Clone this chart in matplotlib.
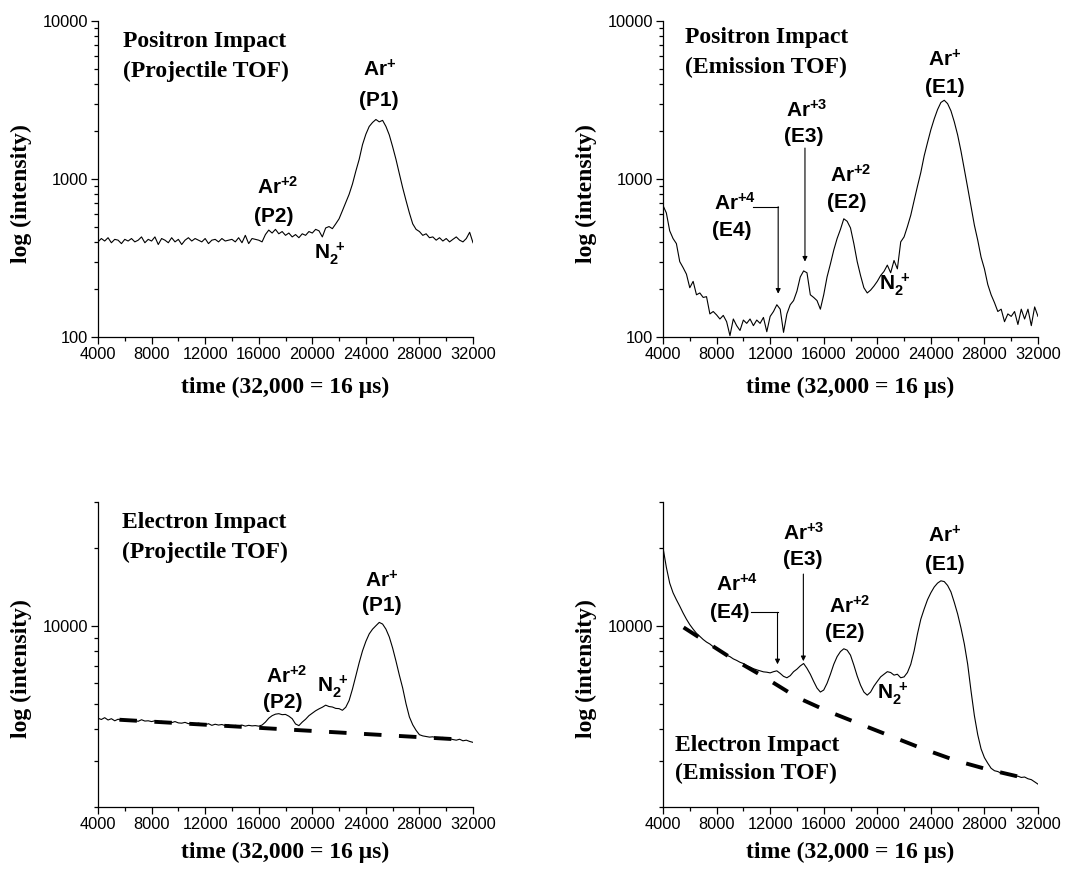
import numpy as np
import matplotlib
matplotlib.use('Agg')
import matplotlib.pyplot as plt
from matplotlib.ticker import FixedLocator, NullFormatter, MultipleLocator

plt.rcParams['font.family'] = ['Liberation Sans', 'DejaVu Sans']
plt.rcParams['mathtext.fontset'] = 'custom'
plt.rcParams['mathtext.rm'] = 'Liberation Sans'
plt.rcParams['mathtext.bf'] = 'Liberation Sans:bold'
plt.rcParams['mathtext.it'] = 'Liberation Sans:italic'

# ---------------- data ----------------
time_grid = list(range(4000, 32001, 250))

positron_projectile = [
    400, 420, 405, 425, 395, 415, 410, 390, 415, 405, 420, 400, 410, 430, 395, 415,
    405, 430, 385, 420, 410, 395, 425, 400, 415, 385, 410, 425, 405, 420, 410, 400,
    420, 390, 410, 415, 400, 420, 405, 410, 415, 400, 425, 395, 440, 390, 420, 415,
    410, 400, 445, 475, 455, 480, 450, 465, 440, 455, 430, 445, 425, 450, 440, 465,
    455, 480, 470, 430, 490, 500, 485, 520, 560, 630, 710, 800, 930, 1120, 1330, 1650,
    1920, 2150, 2280, 2380, 2300, 2350, 2150, 1900, 1600, 1330, 1080, 880, 730, 610, 520, 480,
    465, 440, 450, 425, 430, 410, 425, 405, 420, 400, 415, 430, 410, 400, 420, 460, 395]

positron_emission = [
    680, 610, 470, 420, 390, 300, 275, 250, 205, 225, 185, 190, 178, 180, 140, 145,
    138, 130, 137, 125, 102, 130, 118, 110, 128, 122, 130, 118, 128, 122, 133, 108,
    135, 145, 160, 150, 107, 140, 160, 170, 195, 240, 262, 255, 185, 178, 170, 150,
    185, 240, 290, 355, 420, 480, 560, 540, 490, 390, 300, 245, 205, 190, 198, 210,
    225, 245, 260, 285, 255, 305, 270, 400, 430, 500, 590, 730, 900, 1100, 1400, 1700,
    2050, 2400, 2750, 3050, 3150, 3000, 2700, 2300, 1900, 1500, 1150, 880, 670, 510, 410, 320,
    270, 215, 185, 165, 145, 150, 125, 140, 135, 145, 120, 150, 130, 150, 118, 155, 135]

electron_projectile = [
    4400, 4350, 4420, 4330, 4380, 4300, 4360, 4320, 4340, 4290, 4330, 4310, 4280, 4340, 4290, 4300,
    4270, 4300, 4250, 4280, 4240, 4260, 4230, 4270, 4220, 4210, 4240, 4190, 4220, 4170, 4210, 4180,
    4150, 4190, 4130, 4170, 4140, 4160, 4120, 4150, 4060, 4130, 4110, 4140, 4100, 4130, 4110, 4120,
    4100, 4140, 4250, 4400, 4500, 4560, 4580, 4540, 4550, 4480, 4380, 4180, 4120, 4250, 4360, 4500,
    4600, 4700, 4780, 4850, 4940, 4880, 4860, 4800, 4790, 4720, 4850, 5150, 5700, 6400, 7200, 8000,
    8700, 9300, 9700, 10000, 10300, 10150, 9700, 9050, 8200, 7300, 6450, 5750, 5000, 4450, 4150, 3950,
    3800, 3760, 3740, 3720, 3730, 3700, 3690, 3710, 3660, 3670, 3640, 3620, 3650, 3600, 3620, 3580, 3550]

electron_emission = [
    20000, 16800, 14600, 13400, 12600, 11900, 11200, 10600, 10100, 9700, 9350, 9100, 8850, 8650, 8500, 8300,
    8150, 7980, 7850, 7700, 7600, 7450, 7350, 7230, 7150, 7020, 6930, 6830, 6760, 6700, 6640, 6620,
    6580, 6650, 6700, 6550, 6380, 6300, 6420, 6650, 6800, 7000, 7150, 6850, 6500, 6100, 5750, 5550,
    5650, 6000, 6500, 7100, 7600, 7950, 8150, 8050, 7700, 7050, 6400, 5900, 5550, 5400, 5550, 5850,
    6100, 6350, 6500, 6650, 6600, 6450, 6500, 6300, 6350, 6600, 7100, 8000, 9300, 10600, 11600, 12600,
    13400, 14100, 14600, 14900, 14800, 14300, 13500, 12300, 11100, 9800, 8500, 7100, 5600, 4500, 3800, 3350,
    3100, 2950, 2820, 2760, 2740, 2700, 2690, 2660, 2650, 2620, 2630, 2600, 2610, 2570, 2550, 2500, 2450]

ep_base_t = [5600, 31500]
ep_base_v = [4340, 3630]

ee_base_t = [5540, 9020, 11380, 13990, 16220, 18700, 21190, 23430, 25910, 28150, 31100]
ee_base_v = [9850, 7550, 6420, 5300, 4700, 4180, 3720, 3350, 3015, 2800, 2580]

x_ticks = [4000, 8000, 12000, 16000, 20000, 24000, 28000, 32000]
x_tick_labels = ['4000', '8000', '12000', '16000', '20000', '24000', '28000', '32000']
top_y_ticks = [100, 1000, 10000]
top_y_labels = ['100', '1000', '10000']
bot_y_ticks = [10000]
bot_y_labels = ['10000']

# ---------------- layout ----------------
W, H = 1078, 869
fig = plt.figure(figsize=(W / 100, H / 100), dpi=100)


def add_ax(l, r, t, b):
    return fig.add_axes([l / W, 1 - b / H, (r - l) / W, (b - t) / H])


SERIF = ['Liberation Serif', 'DejaVu Serif']
TSIZE = 17
LSIZE = 15


def style(ax, ylim, yt, ytl, yminor, height_px, xlab_off):
    ax.set_xlim(4000, 32000)
    ax.set_yscale('log')
    ax.set_ylim(*ylim)
    for s in ['top', 'right']:
        ax.spines[s].set_visible(False)
    for s in ['left', 'bottom']:
        ax.spines[s].set_linewidth(0.9)
    ax.xaxis.set_major_locator(FixedLocator(x_ticks))
    ax.set_xticklabels(x_tick_labels)
    ax.xaxis.set_minor_locator(MultipleLocator(2000))
    ax.yaxis.set_major_locator(FixedLocator(yt))
    ax.set_yticklabels(ytl)
    ax.yaxis.set_minor_locator(FixedLocator(yminor))
    ax.yaxis.set_minor_formatter(NullFormatter())
    ax.tick_params(which='major', direction='out', length=5, width=0.9, labelsize=11.8, pad=2)
    ax.tick_params(which='minor', direction='out', length=3, width=0.9)
    ax.set_xlabel('time (32,000 = 16 \u03bcs)', family=SERIF, fontweight='bold', fontsize=TSIZE, va='center')
    ax.xaxis.set_label_coords(0.5, -xlab_off / height_px)
    ax.set_ylabel('log (intensity)', family=SERIF, fontweight='bold', fontsize=TSIZE, va='center')
    ax.yaxis.set_label_coords(-0.203, 0.455)


def title(ax, x, y1, y2, l1, l2):
    ax.text(x, y1, l1, transform=ax.transAxes, family=SERIF, fontweight='bold', fontsize=TSIZE,
            ha='left', va='center')
    ax.text(x, y2, l2, transform=ax.transAxes, family=SERIF, fontweight='bold', fontsize=TSIZE,
            ha='left', va='center')


def lab(ax, x, y, s):
    ax.text(x, y, s, ha='center', va='center', fontsize=LSIZE, fontweight='bold')


def arrow(ax, x0, y0, x1, y1):
    ax.annotate('', xy=(x1, y1), xytext=(x0, y0),
                arrowprops=dict(arrowstyle='-|>', lw=0.8, color='black', mutation_scale=7,
                                shrinkA=0, shrinkB=0))


top_minor = [200, 300, 400, 500, 600, 700, 800, 900, 2000, 3000, 4000, 5000, 6000, 7000, 8000, 9000]
bot_minor = [2000, 3000, 4000, 5000, 6000, 7000, 8000, 9000, 20000, 30000]

# Panel 1: positron, projectile TOF
ax1 = add_ax(98, 473, 21, 337)
ax1.plot(time_grid, positron_projectile, color='black', lw=0.8)
style(ax1, (100, 10000), top_y_ticks, top_y_labels, top_minor, 316, 50)
title(ax1, 0.067, 0.934, 0.839, 'Positron Impact', '(Projectile TOF)')
lab(ax1, 25000, 4900, r'$\mathbf{Ar^{+}}$')
lab(ax1, 25000, 3160, '(P1)')
lab(ax1, 17400, 890, r'$\mathbf{Ar^{+2}}$')
lab(ax1, 17150, 575, '(P2)')
lab(ax1, 21300, 335, r'$\mathbf{N_2^{\ +}}$')

# Panel 2: positron, emission TOF
ax2 = add_ax(663, 1038, 21, 337)
ax2.plot(time_grid, positron_emission, color='black', lw=0.8)
style(ax2, (100, 10000), top_y_ticks, top_y_labels, top_minor, 316, 50)
title(ax2, 0.059, 0.949, 0.854, 'Positron Impact', '(Emission TOF)')
lab(ax2, 25050, 5660, r'$\mathbf{Ar^{+}}$')
lab(ax2, 25050, 3770, '(E1)')
lab(ax2, 14700, 2735, r'$\mathbf{Ar^{+3}}$')
lab(ax2, 14500, 1845, '(E3)')
arrow(ax2, 14600, 1570, 14600, 300)
lab(ax2, 18050, 1060, r'$\mathbf{Ar^{+2}}$')
lab(ax2, 17750, 715, '(E2)')
lab(ax2, 9400, 705, r'$\mathbf{Ar^{+4}}$')
lab(ax2, 9150, 475, '(E4)')
ax2.plot([10750, 12600], [668, 668], color='black', lw=0.8)
arrow(ax2, 12600, 668, 12600, 188)
lab(ax2, 21300, 215, r'$\mathbf{N_2^{\ +}}$')

# Panel 3: electron, projectile TOF
ax3 = add_ax(98, 473, 502, 807)
ax3.plot(time_grid, electron_projectile, color='black', lw=0.8)
ax3.plot(ep_base_t, ep_base_v, color='black', lw=2.8, dashes=(4.5, 4.5), dash_capstyle='butt')
style(ax3, (2000, 30000), bot_y_ticks, bot_y_labels, bot_minor, 305, 45)
title(ax3, 0.064, 0.934, 0.836, 'Electron Impact', '(Projectile TOF)')
lab(ax3, 25200, 14900, r'$\mathbf{Ar^{+}}$')
lab(ax3, 25200, 11940, '(P1)')
lab(ax3, 18100, 6415, r'$\mathbf{Ar^{+2}}$')
lab(ax3, 17800, 5060, '(P2)')
lab(ax3, 21550, 5850, r'$\mathbf{N_2^{\ +}}$')

# Panel 4: electron, emission TOF
ax4 = add_ax(663, 1038, 502, 807)
ax4.plot(time_grid, electron_emission, color='black', lw=0.8)
ax4.plot(ee_base_t, ee_base_v, color='black', lw=2.8, dashes=(4.5, 4.5), dash_capstyle='butt')
style(ax4, (2000, 30000), bot_y_ticks, bot_y_labels, bot_minor, 305, 45)
title(ax4, 0.032, 0.203, 0.111, 'Electron Impact', '(Emission TOF)')
lab(ax4, 25050, 22230, r'$\mathbf{Ar^{+}}$')
lab(ax4, 25050, 17290, '(E1)')
lab(ax4, 14500, 22900, r'$\mathbf{Ar^{+3}}$')
lab(ax4, 14450, 18070, '(E3)')
arrow(ax4, 14480, 15820, 14480, 7300)
lab(ax4, 17950, 11940, r'$\mathbf{Ar^{+2}}$')
lab(ax4, 17600, 9425, '(E2)')
lab(ax4, 9500, 14480, r'$\mathbf{Ar^{+4}}$')
lab(ax4, 9020, 11260, '(E4)')
ax4.plot([10560, 12550], [11260, 11260], color='black', lw=0.8)
arrow(ax4, 12550, 11260, 12550, 7100)
lab(ax4, 21200, 5450, r'$\mathbf{N_2^{\ +}}$')

fig.savefig('out.png', dpi=100)
